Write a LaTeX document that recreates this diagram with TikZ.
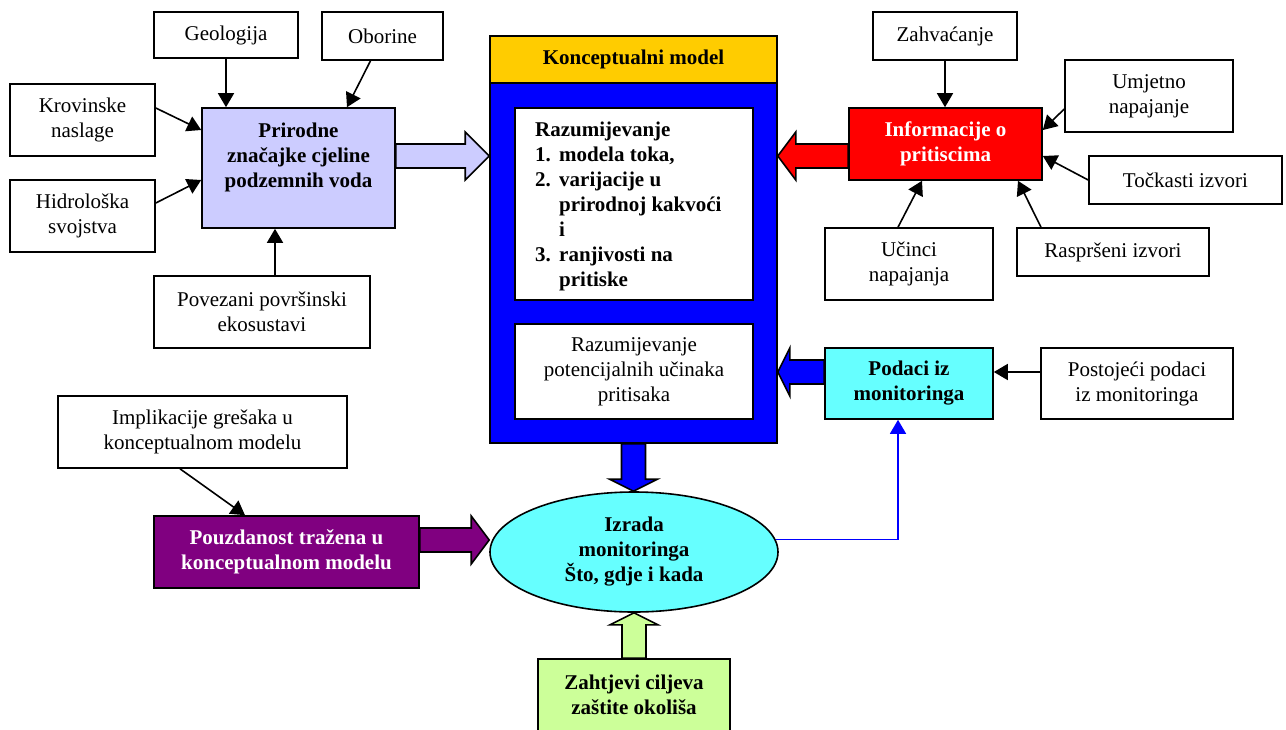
\documentclass[tikz,border=0pt]{standalone}
\usepackage{fontspec}
\setmainfont{Liberation Serif}
\usetikzlibrary{shapes.geometric, arrows.meta, calc, positioning}

\definecolor{lav}{HTML}{CCCCFF}
\definecolor{gold}{HTML}{FFCC00}
\definecolor{blu}{HTML}{0000FF}
\definecolor{rd}{HTML}{FF0000}
\definecolor{cyn}{HTML}{66FFFF}
\definecolor{purp}{HTML}{800080}
\definecolor{grn}{HTML}{CCFF99}

% wide block arrows: fill, from, to, head length (signed)
\newcommand{\hfat}[4]{\draw[fat, fill=#1] let \p1=(#2), \p2=(#3) in
	(\x1,{\y1+12pt}) -- ({\x2-(#4)},{\y1+12pt}) -- ({\x2-(#4)},{\y1+24pt}) -- (\x2,\y1)
	-- ({\x2-(#4)},{\y1-24pt}) -- ({\x2-(#4)},{\y1-12pt}) -- (\x1,{\y1-12pt}) -- cycle;}
\newcommand{\vfat}[4]{\draw[fat, fill=#1] let \p1=(#2), \p2=(#3) in
	({\x1+12pt},\y1) -- ({\x1+12pt},{\y2+(#4)}) -- ({\x1+24pt},{\y2+(#4)}) -- (\x1,\y2)
	-- ({\x1-24pt},{\y2+(#4)}) -- ({\x1-12pt},{\y2+(#4)}) -- ({\x1-12pt},\y1) -- cycle;}

\begin{document}
\begin{tikzpicture}[x=1pt, y=-1pt, font=\fontsize{21}{25}\selectfont,
	box/.style 2 args={draw, line width=1.6pt, fill=white, inner sep=0pt, align=center,
		minimum width=#1, minimum height=#2},
	bf/.style={font=\fontsize{21}{25}\selectfont\bfseries},
	arr/.style={line width=1.6pt, -{Triangle[length=14pt, width=16pt]}},
	fat/.style={draw, line width=1.6pt}]
	\useasboundingbox (0,0) rectangle (1286,729);

	% left group
	\node[box={144pt}{46pt}] (geol) at (226,35) {Geologija};
	\node[box={121pt}{48pt}] (obor) at (382.5,36) {Oborine};
	\node[box={145pt}{72pt}] (krov) at (82.5,120) {Krovinske\\naslage};
	\node[box={145pt}{72pt}] (hidro) at (82.5,216) {Hidrološka\\svojstva};
	\node[box={193pt}{120pt}, fill=lav] (prir) at (298.5,168) {};
	\node[bf, align=center, inner sep=0pt] (prirtxt) at (298.5,157) {Prirodne\\značajke cjeline\\podzemnih voda};
	\node[box={216pt}{72pt}] (povez) at (262,312) {Povezani površinski\\ekosustavi};

	\draw[arr] (geol.south) to (geol.south |- prir.north);
	\draw[arr] ([xshift=-12pt]obor.south) to ([xshift=48.5pt]prir.north);
	\draw[arr] ([yshift=12pt]krov.east) to ([yshift=38pt]prir.west);
	\draw[arr] ([yshift=13pt]hidro.east) to ([yshift=-12pt]prir.west);
	\draw[arr] ([xshift=13pt]povez.north) to ([xshift=13pt]povez.north |- prir.south);

	% conceptual model
	\node[box={287pt}{47pt}, fill=gold, bf] (kmhead) at (633.5,59.5) {Konceptualni model};
	\node[box={287pt}{360pt}, fill=blu] (kmbody) at (633.5,263) {};
	\node[box={238pt}{192pt}] (razum) at (634,204) {};
	\node[bf, align=left, anchor=west, inner sep=0pt] (razumtxt) at (535,206) {Razumijevanje\\
		\makebox[24pt][l]{1.}modela toka,\\
		\makebox[24pt][l]{2.}varijacije u\\
		\hspace*{24pt}prirodnoj kakvoći\\
		\hspace*{24pt}i\\
		\makebox[24pt][l]{3.}ranjivosti na\\
		\hspace*{24pt}pritiske};
	\node[box={238pt}{95pt}] (utjec) at (634,371.5) {Razumijevanje\\potencijalnih učinaka\\pritisaka};

	% right group
	\node[box={144pt}{48pt}] (zahv) at (945,36) {Zahvaćanje};
	\node[box={168pt}{72pt}] (umjet) at (1149,96) {Umjetno\\napajanje};
	\node[box={193pt}{72pt}, fill=rd, bf, text=white] (infor) at (945.5,144) {Informacije o\\pritiscima};
	\node[box={193pt}{48pt}] (tockas) at (1185.5,180) {Točkasti izvori};
	\node[box={168pt}{72pt}] (ucinci) at (909,264) {Učinci\\napajanja};
	\node[box={192pt}{48pt}] (rasprs) at (1113,252) {Raspršeni izvori};
	\node[box={168pt}{71pt}, fill=cyn, bf] (podaci) at (909,383.5) {Podaci iz\\monitoringa};
	\node[box={192pt}{71pt}] (postoj) at (1137,383.5) {Postojeći podaci\\iz monitoringa};

	\draw[arr] (zahv.south) to (zahv.south |- infor.north);
	\draw[arr] ([yshift=-13pt]umjet.west) to ([yshift=14pt]infor.east);
	\draw[arr] (tockas.west) to ([yshift=-12pt]infor.east);
	\draw[arr] ([xshift=-11pt]ucinci.north) to ([xshift=-23.5pt]infor.south);
	\draw[arr] ([xshift=-72pt]rasprs.north) to ([xshift=72.5pt]infor.south);
	\draw[arr] ([yshift=11.5pt]postoj.west) to ([yshift=11.5pt]podaci.west -| podaci.east);

	% bottom group
	\node[box={289pt}{72pt}] (implik) at (202.5,432) {Implikacije grešaka u\\konceptualnom modelu};
	\node[box={265pt}{72pt}, fill=purp, bf, text=white] (pouzd) at (286.5,552) {Pouzdanost tražena u\\konceptualnom modelu};
	\node[draw, ellipse, line width=1.6pt, fill=cyn, inner sep=0pt, minimum width=288pt,
		minimum height=120pt, bf, align=center] (izrada) at (634,552) {Izrada\\monitoringa\\Što, gdje i kada};
	\node[box={192pt}{72pt}, fill=grn, bf] (zahtj) at (634,695) {Zahtjevi ciljeva\\zaštite okoliša};

	\draw[arr] ([xshift=-22.5pt]implik.south) to ([xshift=-41.5pt]pouzd.north);
	\draw[blu, line width=1.4pt, -{Triangle[length=14pt, width=16pt]}] (izrada.5) -| ([xshift=-11pt]podaci.south);

	% block arrows
	\coordinate (la) at ([yshift=12pt]prir.east);
	\hfat{lav}{la}{kmbody.west |- la}{24pt}
	\coordinate (ra) at ([yshift=-12pt]infor.west);
	\hfat{rd}{ra}{kmbody.east |- ra}{-18pt}
	\coordinate (ba) at ([yshift=11.5pt]podaci.west);
	\hfat{blu}{ba}{kmbody.east |- ba}{-12pt}
	\coordinate (pa) at ([yshift=12pt]pouzd.east);
	\hfat{purp}{pa}{izrada.west |- pa}{18pt}
	\vfat{blu}{kmbody.south}{izrada.north}{12pt}
	\vfat{grn}{zahtj.north}{izrada.south}{-12pt}
\end{tikzpicture}
\end{document}
